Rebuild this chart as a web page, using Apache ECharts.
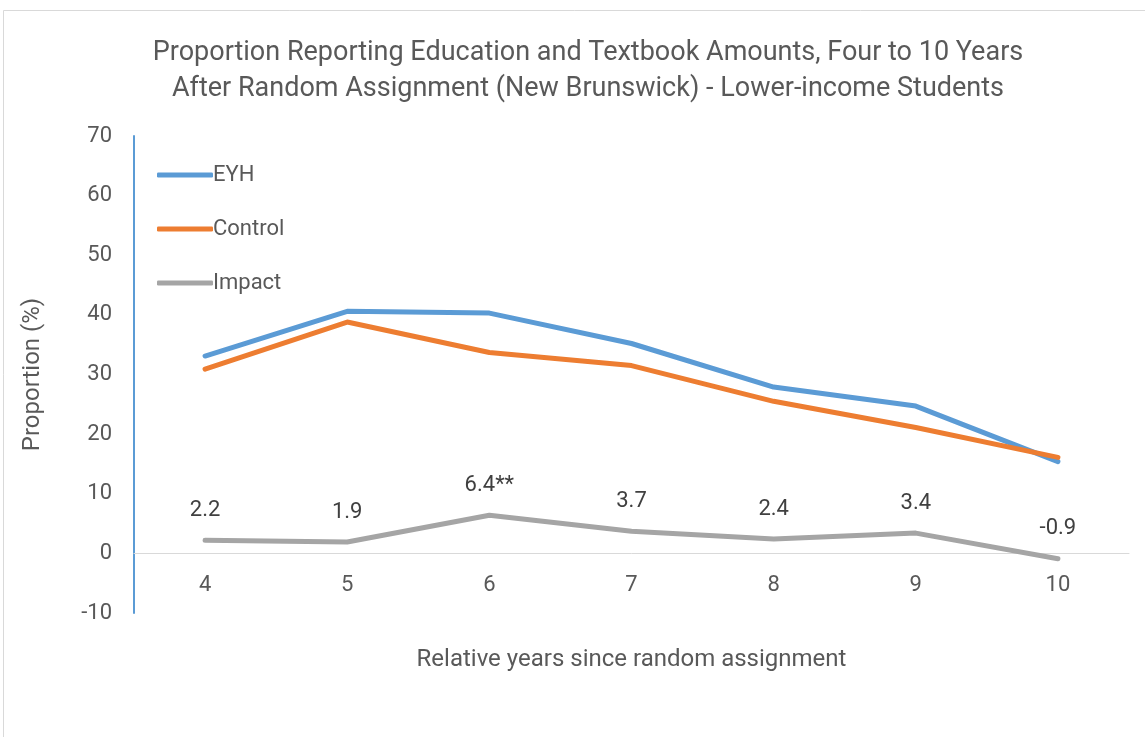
<!DOCTYPE html>
<html><head><meta charset="utf-8">
<script src="https://cdn.jsdelivr.net/npm/echarts@6/dist/echarts.min.js"></script>
<style>html,body{margin:0;padding:0;background:#fff}#c{width:1145px;height:737px}</style>
</head><body><div id="c"></div>
<script>
const categories = ['4','5','6','7','8','9','10'];
const eyh = [33.1, 40.6, 40.3, 35.2, 27.9, 24.7, 15.4];
const control = [30.9, 38.8, 33.7, 31.5, 25.5, 21.1, 16.1];
const impact = [2.2, 1.9, 6.4, 3.7, 2.4, 3.4, -0.9];
const impactLabels = ['2.2', '1.9', '6.4**', '3.7', '2.4', '3.4', '-0.9'];

const FONT = 'Roboto';
const chart = echarts.init(document.getElementById('c'));
chart.setOption({
  animation: false,
  backgroundColor: '#fff',
  graphic: [{type: 'rect', shape: {x: 3.5, y: 10.5, width: 1160, height: 760},
    style: {fill: 'none', stroke: '#d9d9d9', lineWidth: 1}, silent: true, z: -10}],
  title: {
    text: 'Proportion Reporting Education and Textbook Amounts, Four to 10 Years\nAfter Random Assignment (New Brunswick) - Lower-income Students',
    left: 583, top: 30, textAlign: 'center',
    textStyle: {fontFamily: FONT, fontSize: 27, fontWeight: 'normal', color: '#595959', lineHeight: 36}
  },
  legend: {
    orient: 'vertical', left: 152, top: 159, itemGap: 32, itemWidth: 56, itemHeight: 5,
    icon: 'roundRect',
    textStyle: {fontFamily: FONT, fontSize: 22, color: '#595959', padding: [0,0,0,-5]},
    data: [{name: 'EYH'}, {name: 'Control'}, {name: 'Impact', itemStyle: {opacity: 1, color: '#a5a5a5'}}]
  },
  grid: {left: 134, right: 16, top: 136, bottom: 124},
  xAxis: {
    type: 'category', data: categories, boundaryGap: true,
    name: 'Relative years since random assignment', nameLocation: 'middle', nameGap: 35,
    nameTextStyle: {fontFamily: FONT, fontSize: 24, color: '#595959'},
    axisLine: {onZero: true, lineStyle: {color: '#d9d9d9', width: 1}},
    axisTick: {show: false},
    axisLabel: {fontFamily: FONT, fontSize: 22, color: '#595959', margin: -39}
  },
  yAxis: {
    type: 'value', min: -10, max: 70, interval: 10,
    name: 'Proportion (%)', nameLocation: 'middle', nameGap: 89, nameRotate: 90,
    nameTextStyle: {fontFamily: FONT, fontSize: 24, color: '#595959'},
    axisLine: {show: true, lineStyle: {color: '#5b9bd5', width: 2}},
    axisTick: {show: false},
    splitLine: {show: false},
    axisLabel: {fontFamily: FONT, fontSize: 22, color: '#595959', margin: 22}
  },
  series: [
    {name: 'EYH', type: 'line', data: eyh, symbol: 'none', color: '#5b9bd5',
     lineStyle: {width: 5, color: '#5b9bd5', cap: 'round', join: 'round'}},
    {name: 'Control', type: 'line', data: control, symbol: 'none', color: '#ed7d31',
     lineStyle: {width: 5, color: '#ed7d31', cap: 'round', join: 'round'}},
    {name: 'Impact', type: 'line', data: impact, symbol: 'circle', symbolSize: 0.01, color: '#a5a5a5',
     lineStyle: {width: 5, color: '#a5a5a5', cap: 'round', join: 'round'},
     label: {show: true, position: 'top', distance: 19, fontFamily: FONT, fontSize: 22, color: '#404040',
       formatter: p => impactLabels[p.dataIndex]}}
  ]
});
</script></body></html>
